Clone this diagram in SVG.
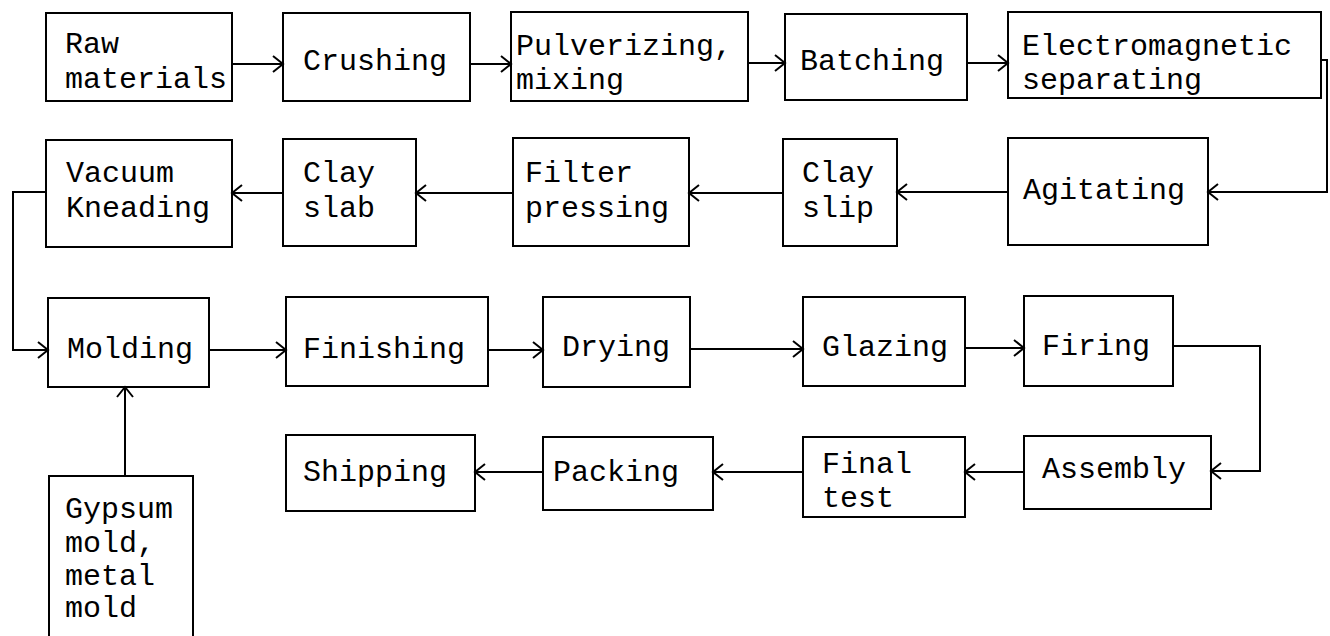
<svg xmlns="http://www.w3.org/2000/svg" width="1330" height="636" viewBox="0 0 1330 636">
<defs>
<marker id="ah" markerWidth="14" markerHeight="18" refX="11" refY="9" orient="auto" markerUnits="userSpaceOnUse">
<path d="M1,1 L11,9 L1,17" fill="none" stroke="#000" stroke-width="2"/>
</marker>
<style>
rect{fill:#fff;stroke:#000;stroke-width:2}
text{font-family:"Liberation Mono","Courier New",monospace;font-size:30px;fill:#000}
.c{fill:none;stroke:#000;stroke-width:2;marker-end:url(#ah)}
</style>
</defs>
<rect x="0" y="0" width="1330" height="636" style="fill:#fff;stroke:none"/>
<g id="n-raw"><rect x="46" y="13" width="186" height="88"/><text x="65" y="53">Raw</text><text x="65" y="88">materials</text></g>
<g id="n-crushing"><rect x="283" y="13" width="187" height="88"/><text x="303" y="70">Crushing</text></g>
<g id="n-pulverizing"><rect x="511" y="12" width="237" height="89"/><text x="516" y="55">Pulverizing,</text><text x="516" y="89">mixing</text></g>
<g id="n-batching"><rect x="785" y="14" width="182" height="86"/><text x="800" y="70">Batching</text></g>
<g id="n-electro"><rect x="1008" y="12" width="313" height="86"/><text x="1022" y="55">Electromagnetic</text><text x="1022" y="89">separating</text></g>
<g id="n-agitating"><rect x="1008" y="138" width="200" height="107"/><text x="1023" y="199">Agitating</text></g>
<g id="n-clayslip"><rect x="783" y="139" width="114" height="107"/><text x="802" y="182">Clay</text><text x="802" y="217">slip</text></g>
<g id="n-filter"><rect x="513" y="138" width="176" height="108"/><text x="525" y="182">Filter</text><text x="525" y="217">pressing</text></g>
<g id="n-clayslab"><rect x="283" y="139" width="133" height="107"/><text x="303" y="182">Clay</text><text x="303" y="217">slab</text></g>
<g id="n-vacuum"><rect x="46" y="140" width="186" height="107"/><text x="66" y="182">Vacuum</text><text x="66" y="217">Kneading</text></g>
<g id="n-molding"><rect x="48" y="298" width="161" height="89"/><text x="67" y="358">Molding</text></g>
<g id="n-finishing"><rect x="286" y="297" width="202" height="89"/><text x="303" y="358">Finishing</text></g>
<g id="n-drying"><rect x="543" y="297" width="147" height="90"/><text x="562" y="356">Drying</text></g>
<g id="n-glazing"><rect x="803" y="297" width="162" height="89"/><text x="822" y="356">Glazing</text></g>
<g id="n-firing"><rect x="1024" y="296" width="149" height="90"/><text x="1042" y="355">Firing</text></g>
<g id="n-assembly"><rect x="1024" y="436" width="187" height="73"/><text x="1042" y="478">Assembly</text></g>
<g id="n-finaltest"><rect x="803" y="437" width="162" height="80"/><text x="822" y="473">Final</text><text x="822" y="507">test</text></g>
<g id="n-packing"><rect x="543" y="437" width="170" height="73"/><text x="553" y="481">Packing</text></g>
<g id="n-shipping"><rect x="286" y="435" width="189" height="76"/><text x="303" y="481">Shipping</text></g>
<g id="n-gypsum"><rect x="49" y="476" width="144" height="170"/><text x="65" y="518">Gypsum</text><text x="65" y="552">mold,</text><text x="65" y="585">metal</text><text x="65" y="617">mold</text></g>
<g id="connectors">
<path class="c" d="M232,64 L283,64"/>
<path class="c" d="M470,64 L511,64"/>
<path class="c" d="M748,63 L785,63"/>
<path class="c" d="M967,63 L1008,63"/>
<path class="c" d="M1321,60 L1327,60 L1327,192 L1208,192"/>
<path class="c" d="M1008,192 L897,192"/>
<path class="c" d="M783,193 L689,193"/>
<path class="c" d="M513,193 L416,193"/>
<path class="c" d="M283,193 L232,193"/>
<path class="c" d="M46,192 L13,192 L13,350 L48,350"/>
<path class="c" d="M209,350 L286,350"/>
<path class="c" d="M488,350 L543,350"/>
<path class="c" d="M690,349 L803,349"/>
<path class="c" d="M965,348 L1024,348"/>
<path class="c" d="M1173,346 L1260,346 L1260,471 L1211,471"/>
<path class="c" d="M1024,472 L965,472"/>
<path class="c" d="M803,472 L713,472"/>
<path class="c" d="M543,472 L475,472"/>
<path class="c" d="M125,476 L125,387"/>
</g>
</svg>
